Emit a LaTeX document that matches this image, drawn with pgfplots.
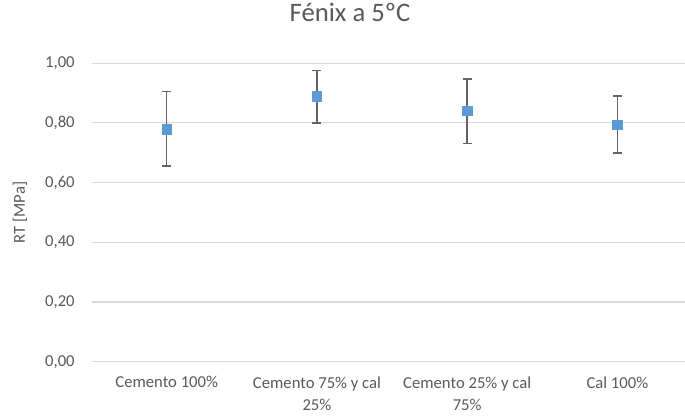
\documentclass[border=0pt]{standalone}
\usepackage{pgfplots}
\pgfplotsset{compat=1.18}
\usepackage{fontspec}
\setmainfont{Carlito}
\definecolor{txtgray}{RGB}{89,89,89}
\definecolor{gridgray}{RGB}{217,217,217}
\definecolor{mblue}{RGB}{91,155,213}
\definecolor{errgray}{RGB}{100,100,100}
\begin{document}
\begin{tikzpicture}
\useasboundingbox (0,0) rectangle (513.75pt,312.75pt);
\begin{axis}[
  at={(68.7pt,41.5pt)}, anchor=south west,
  scale only axis, width=445.05pt, height=223.8pt,
  xmin=-0.5, xmax=3.45, ymin=0, ymax=1,
  ytick={0,0.2,...,1.0},
  xtick={0,1,2,3},
  xticklabels={Cemento 100\%, Cemento 75\% y cal\\25\%, Cemento 25\% y cal\\75\%, Cal 100\%},
  axis line style={draw=none},
  major tick length=0pt,
  ymajorgrids, grid style={gridgray, line width=0.8pt},
  /pgf/number format/.cd, fixed, fixed zerofill, precision=2, use comma, assume math mode=true,
  /pgfplots/.cd,
  yticklabel style={font=\fontsize{12.5}{15}\selectfont, text=txtgray, inner sep=0pt, anchor=east, xshift=-12.5pt},
  xticklabel style={font=\fontsize{12.5}{16.5}\selectfont, text=txtgray, inner sep=0pt, anchor=north, align=center, yshift=-11pt},
  ylabel={RT [MPa]},
  ylabel style={font=\fontsize{12.5}{15}\selectfont, text=txtgray, at={(axis description cs:-0.1207,0.5)}, anchor=center},
  title={Fénix a 5ºC},
  title style={font=\fontsize{20}{24}\selectfont, text=txtgray, at={(axis description cs:0.4355,1.114)}, anchor=base},
  clip=false,
]
\addplot[only marks, mark=square*, mark size=3.6pt, mark options={fill=mblue, draw=mblue},
  error bars/.cd, y dir=both, y explicit,
  error bar style={errgray, line width=1.1pt},
  error mark options={rotate=90, errgray, line width=1.1pt, mark size=3.4pt}]
  table[x=x, y=y, y error plus=ep, y error minus=em] {
x y ep em
0 0.778 0.127 0.123
1 0.889 0.086 0.089
2 0.841 0.106 0.109
3 0.794 0.097 0.095
};
\end{axis}
\end{tikzpicture}
\end{document}
